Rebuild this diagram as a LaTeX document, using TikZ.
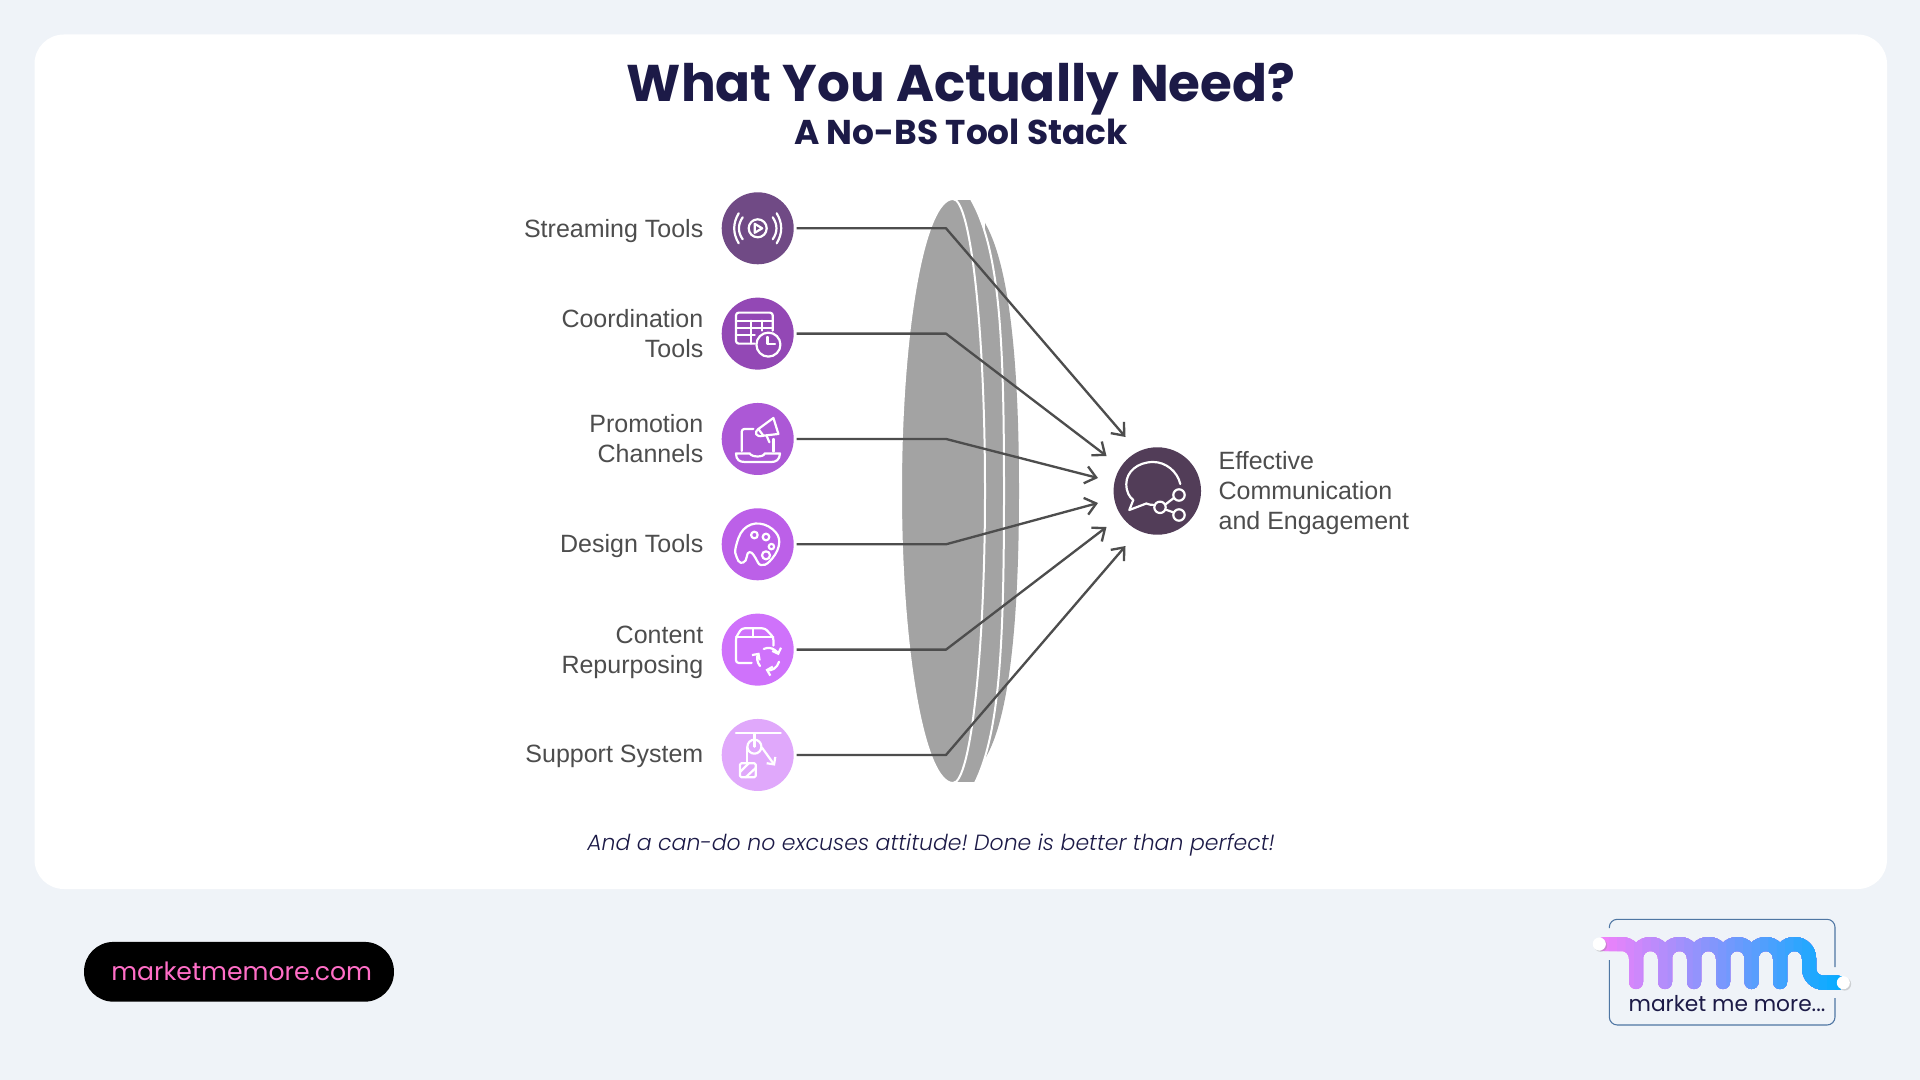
\documentclass[tikz,border=0pt]{standalone}
\usepackage{fontspec}
\setmainfont{Liberation Sans}
\newfontfamily\popfont{Poppins}
\newfontfamily\poplight{Poppins}[UprightFont=* Light,ItalicFont=* Light Italic]
\usetikzlibrary{arrows.meta,positioning,shadows}
\definecolor{pagebg}{HTML}{EFF3F8}
\definecolor{navy}{HTML}{1C1A47}
\definecolor{textgrey}{HTML}{4D4D4D}
\definecolor{discgrey}{HTML}{A3A3A3}
\definecolor{colA}{HTML}{704A85}
\definecolor{colB}{HTML}{9348B5}
\definecolor{colC}{HTML}{AC58D6}
\definecolor{colD}{HTML}{BC60E8}
\definecolor{colE}{HTML}{CF72FB}
\definecolor{colF}{HTML}{E0A8FB}
\definecolor{colG}{HTML}{523D58}
\definecolor{logopink}{HTML}{F680FA}
\definecolor{logoblue}{HTML}{06ADFF}
\definecolor{logoframe}{HTML}{4F76A3}
\definecolor{pillpink}{HTML}{FF6EC7}
\newcommand{\squiggle}{(1604,944) -- (1636,944) -- (1636,982)
  (1636,982) -- (1636,944) -- (1665,944) -- (1665,982)
  (1665,982) -- (1665,944) -- (1694,944) -- (1694,982)
  (1694,982) -- (1694,944) -- (1723,944) -- (1723,982)
  (1723,982) -- (1723,944) -- (1751.5,944) -- (1751.5,982)
  (1751.5,982) -- (1751.5,944) -- (1780,944) -- (1780,982)
  (1780,982) -- (1780,944) -- (1809,944) -- (1809,982.7) -- (1838,982.7)}
\frenchspacing

\begin{document}
\begin{tikzpicture}[x=0.75pt, y=-0.75pt,
    bubble/.style={circle, minimum size=54pt, inner sep=0pt, outer sep=0pt},
    tool/.style={left=13.6pt of #1, inner sep=0pt, align=right, text=textgrey, font=\fontsize{18.75}{22.5}\selectfont},
    link/.style={draw=textgrey, line width=1.75pt, shorten <=2.25pt, line join=round, -{Straight Barb[length=8pt,width=13pt,line width=1.75pt]}},
    icon/.style={draw=white, line width=1.65pt, line cap=round, line join=round},
    recycle/.style={icon, -{Straight Barb[length=3.5pt,width=7pt]}},
    disc/.style={fill=discgrey, draw=white, line width=1.5pt},
    logoline/.style={line width=10.5pt, line cap=round, rounded corners=10.8pt},
    dot/.style={circle, fill=white, minimum size=9.8pt, inner sep=0pt, drop shadow={shadow xshift=1pt, shadow yshift=-1pt, opacity=.3}}]
  \useasboundingbox (0,0) rectangle (1920,1080);
  \fill[pagebg] (0,0) rectangle (1920,1080);
  \fill[white, rounded corners=22pt] (34.5,34.5) rectangle (1887,889);

  \node[anchor=base, inner sep=0pt, text=navy, font=\popfont\bfseries\fontsize{38.7}{46}\selectfont] (title) at (961,102) {What You Actually Need?};
  \node[anchor=base, inner sep=0pt, text=navy, font=\popfont\bfseries\fontsize{25.8}{30}\selectfont] (subtitle) at (961,144.5) {A No-BS Tool Stack};

  \begin{scope}
    \clip (880,199) rectangle (1040,783);
    \fill[discgrey] (985,223) .. controls (1012,270) and (1019,380) .. (1019,491) .. controls (1019,602) and (1012,712) .. (986,757) -- cycle;
    \draw[disc] (956,199) -- (971,199) .. controls (1000,250) and (1004,340) .. (1004,491) .. controls (1004,642) and (1000,732) .. (975,783) -- (956,783) -- (975,491) -- cycle;
    \draw[disc] (953,199) arc [start angle=-90, end angle=-270, x radius=52, y radius=292] arc [start angle=90, end angle=-90, x radius=32, y radius=292] -- cycle;
  \end{scope}

  \node[bubble, fill=colA] (ciA) at (757.7,228.3) {};
  \node[bubble, fill=colB, below=25pt of ciA] (ciB) {};
  \node[bubble, fill=colC, below=25pt of ciB] (ciC) {};
  \node[bubble, fill=colD, below=25pt of ciC] (ciD) {};
  \node[bubble, fill=colE, below=25pt of ciD] (ciE) {};
  \node[bubble, fill=colF, below=25pt of ciE] (ciF) {};
  \node[circle, fill=colG, minimum size=65.6pt, inner sep=0pt, outer sep=0pt] (ciG) at (1157.3,491) {};

  \node[tool=ciA, yshift=-1.8pt] (labA) {Streaming Tools};
  \node[tool=ciB] (labB) {Coordination\\Tools};
  \node[tool=ciC] (labC) {Promotion\\Channels};
  \node[tool=ciD, yshift=-1pt] (labD) {Design Tools};
  \node[tool=ciE, yshift=-1.8pt] (labE) {Content\\Repurposing};
  \node[tool=ciF, yshift=-1pt] (labF) {Support System};
  \node[right=13pt of ciG, yshift=-1.8pt, inner sep=0pt, align=left, text=textgrey, font=\fontsize{18.75}{22.5}\selectfont] (labG) {Effective\\Communication\\and Engagement};

  \coordinate (midX) at (946,0);
  \coordinate (tipA) at (1125.5,437);
  \coordinate (tipB) at (1106.5,456);
  \coordinate (tipC) at (1098,478);
  \coordinate (tipD) at (1098,503);
  \coordinate (tipE) at (1106.5,527);
  \coordinate (tipF) at (1125.5,546);
  \draw[link] (ciA) -- (ciA -| midX) -- (tipA);
  \draw[link] (ciB) -- (ciB -| midX) -- (tipB);
  \draw[link] (ciC) -- (ciC -| midX) -- (tipC);
  \draw[link] (ciD) -- (ciD -| midX) -- (tipD);
  \draw[link] (ciE) -- (ciE -| midX) -- (tipE);
  \draw[link] (ciF) -- (ciF -| midX) -- (tipF);

  \begin{scope}[shift={(ciA)}]
    \draw[icon] (0,0) circle [radius=9];
    \draw[icon] (-3,-4.5) -- (4.5,0) -- (-3,4.5) -- cycle;
    \draw[icon] (-15,-11) .. controls (-20,-4) and (-20,4) .. (-15,11);
    \draw[icon] (15,-11) .. controls (20,-4) and (20,4) .. (15,11);
    \draw[icon] (-19,-15) .. controls (-25,-5) and (-25,5) .. (-19,15);
    \draw[icon] (19,-15) .. controls (25,-5) and (25,5) .. (19,15);
  \end{scope}
  \begin{scope}[shift={(ciB)}]
    \draw[icon, rounded corners=2pt] (-3,10) -- (-21.7,10) -- (-21.7,-21) -- (15,-21) -- (15,-3);
    \draw[icon] (-21.7,-13) -- (15,-13) (-21.7,-5.5) -- (15,-5.5) (-21.7,1.5) -- (-3,1.5);
    \draw[icon] (-7,-13) -- (-7,10) (4,-13) -- (4,-3);
    \draw[icon] (10.7,11) circle [radius=12];
    \draw[icon] (9.7,3.3) -- (9.7,10.7) -- (17.3,10.7);
  \end{scope}
  \begin{scope}[shift={(ciC)}]
    \draw[icon, rounded corners=2pt] (-4.3,-10) -- (-16,-10) -- (-16,12);
    \draw[icon] (15.7,0) -- (15.7,12.5);
    \draw[icon] (-21.7,14.5) -- (-8,14.5) .. controls (-6,18.5) and (6,18.5) .. (7,14.5) -- (22.3,14.5) .. controls (22,21) and (18,23) .. (14,23) -- (-13,23) .. controls (-18,23) and (-21.7,21) .. cycle;
    \draw[icon] (15.7,-21) -- (20.7,-5) -- (5.7,-3.3) -- (0.7,-10) -- cycle;
    \draw[icon] (0.7,-10) .. controls (-4,-7) and (-2,-1) .. (5.7,-3.3);
    \draw[icon] (9,-3) -- (11.7,3.3);
  \end{scope}
  \begin{scope}[shift={(ciD)}]
    \draw[icon] plot[smooth cycle, tension=.7] coordinates {(-22,3) (-14,-15) (2,-20.7) (18,-12) (21,2) (12,17) (3,20.7) (-2,14) (-6,8.5) (-10,9) (-12,16) (-17,18.5) (-21,13)};
    \draw[icon] (-3.3,-9.3) circle [radius=3.3];
    \draw[icon] (8.3,-7.3) circle [radius=3.3];
    \draw[icon] (13.7,2.3) circle [radius=2.7];
    \draw[icon] (8.3,11) circle [radius=4];
  \end{scope}
  \begin{scope}[shift={(ciE)}]
    \draw[icon, rounded corners=2pt] (-6,13.3) -- (-21.7,13.3) -- (-21.7,-12.3) -- (-16,-21.3) -- (7.3,-21.3) -- (15.7,-12.3) -- (15.7,-4);
    \draw[icon] (-21.7,-12.3) -- (15.7,-12.3) (-5,-21.3) -- (-5,-12.3);
    \draw[recycle] ([shift={(-115:11)}]10.7,9.3) arc [start angle=-115, end angle=-20, radius=11];
    \draw[recycle] ([shift={(15:11)}]10.7,9.3) arc [start angle=15, end angle=105, radius=11];
    \draw[recycle] ([shift={(140:11)}]10.7,9.3) arc [start angle=140, end angle=215, radius=11];
  \end{scope}
  \begin{scope}[shift={(ciF)}]
    \draw[icon] (-21.7,-21.7) -- (23,-21.7);
    \draw[icon] (-3.3,-21.7) -- (-3.3,-8.3);
    \draw[icon] (-3.3,-8.3) circle [radius=7];
    \draw[icon] (-11,-7.7) -- (-11,7.3);
    \draw[icon, -{Straight Barb[length=4pt,width=8pt]}] (4,-7.7) -- (17.3,10.7);
    \draw[icon, rounded corners=1pt] (-17.7,8.3) rectangle (-2,22.3);
    \draw[icon] (-17.7,17) -- (-9,8.3) (-12,22.3) -- (-2,13);
  \end{scope}
  \begin{scope}[shift={(ciG)}]
    \draw[icon] (23,-7) .. controls (20,-20) and (8,-29) .. (-4,-29) .. controls (-20,-29) and (-31,-19) .. (-31,-7) .. controls (-31,1) and (-28,6) .. (-24,9) -- (-28,19) -- (-11,12.5) .. controls (-9,13.5) and (-6,14) .. (-3,14);
    \draw[icon] (21.7,4) circle [radius=5.7];
    \draw[icon] (21.7,24) circle [radius=5.7];
    \draw[icon] (2.7,16.3) circle [radius=5.7];
    \draw[icon] (8,13.5) -- (16.5,7) (8,18.5) -- (16.5,21.5);
  \end{scope}

  \node[anchor=base, inner sep=0pt, text=navy, font=\poplight\itshape\fontsize{16.5}{20}\selectfont] (tagline) at (931,850) {And a can-do no excuses attitude! Done is better than perfect!};

  \node[fill=black, rounded corners=22pt, minimum width=232.4pt, minimum height=44.8pt, inner sep=0pt] (pill) at (239,971.8) {};
  \node[anchor=base, inner sep=0pt, text=pillpink, font=\popfont\fontsize{18.85}{24}\selectfont] (pilltext) at (241.7,980) {marketmemore.com};

  \draw[logoframe, line width=0.8pt, rounded corners=6pt] (1609.3,928) -- (1609.3,919.3) -- (1835,919.3) -- (1835,967);
  \draw[logoframe, line width=0.8pt, rounded corners=6pt] (1835,998) -- (1835,1025) -- (1609.3,1025) -- (1609.3,960);
  \foreach \i in {0,...,29}{
    \pgfmathsetmacro\mixval{100-\i*100/29}
    \colorlet{slicecol}{logopink!\mixval!logoblue}
    \begin{scope}
      \clip ({1592+\i*8.4},900) rectangle (1870,1040);
      \draw[logoline, slicecol] \squiggle;
    \end{scope}
  }
  \node[dot] (dotL) at (1599.3,944) {};
  \node[dot] (dotR) at (1843.3,982.7) {};
  \node[anchor=base, inner sep=0pt, text=navy, font=\popfont\fontsize{16.3}{19}\selectfont] (logotext) at (1727,1011.7) {market me more...};
\end{tikzpicture}
\end{document}
